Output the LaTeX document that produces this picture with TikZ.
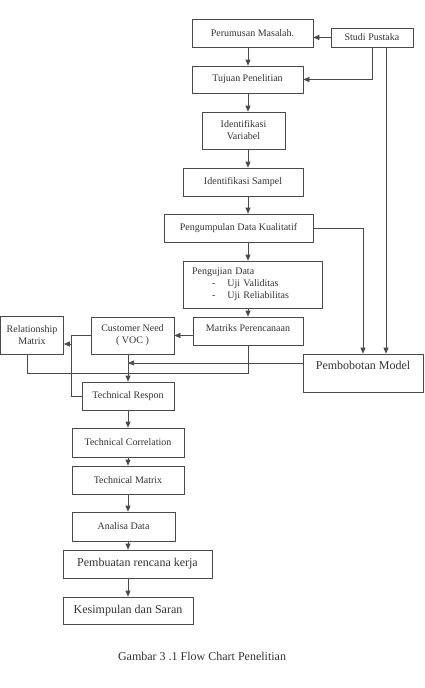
\documentclass[tikz,border=0pt]{standalone}
\usepackage{fontspec}
\setmainfont{Liberation Serif}
\usetikzlibrary{arrows.meta,positioning}
\definecolor{lineGray}{HTML}{4A4A4A}
\definecolor{textMain}{HTML}{333333}

\begin{document}
\begin{tikzpicture}[
    x=1pt, y=-1pt,
    font=\fontsize{10}{12}\selectfont,
    boxNode/.style={
        rectangle, draw=lineGray, line width=0.7pt,
        text=textMain, inner sep=2pt, align=center
    },
    bigNode/.style={boxNode, font=\fontsize{12}{14}\selectfont},
    flow/.style={-{Triangle[length=6pt,width=5pt]}, draw=lineGray, line width=0.7pt},
    link/.style={draw=lineGray, line width=0.7pt}
]
\useasboundingbox (0,0) rectangle (424,688);

% Main column, top part
\node[boxNode, minimum width=121, minimum height=28] (Perumusan) at (252.5,33) {Perumusan Masalah.};
\node[boxNode, minimum width=82, minimum height=19] (Studi) at (372,37.5) {Studi Pustaka};
\node[boxNode, minimum width=111, minimum height=27] (Tujuan) at (247.5,79.5) {Tujuan Penelitian};
\node[boxNode, minimum width=83, minimum height=37] (Variabel) at (243.5,130.5) {Identifikasi\\Variabel};
\node[boxNode, minimum width=120, minimum height=28] (Sampel) at (243,182) {Identifikasi Sampel};
\node[boxNode, minimum width=149, minimum height=28] (Kualitatif) at (238.5,228) {Pengumpulan Data Kualitatif};
\node[boxNode, text width=121pt, inner xsep=9pt, minimum height=47, align=left] (Pengujian) at (252.5,284.5)
  {Pengujian Data\\\hspace*{20pt}-\hspace{12pt}Uji Validitas\\\hspace*{20pt}-\hspace{12pt}Uji Reliabilitas};
\node[boxNode, minimum width=110, inner ysep=0pt, text height=14.5pt, text depth=13.5pt] (Matriks) at (248,331) {Matriks Perencanaan};

% QFD part
\node[boxNode, minimum width=83, minimum height=37] (Customer) at (132.5,335.5) {Customer Need\\( VOC )};
\node[boxNode, minimum width=63, minimum height=38] (Relationship) at (32,335) {Relationship\\Matrix};
\node[bigNode, minimum width=120, inner ysep=0pt, text height=15pt, text depth=23pt] (Pembobotan) at (363,373) {Pembobotan Model};
\node[boxNode, minimum width=92, minimum height=28] (Respon) at (128,396) {Technical Respon};
\node[boxNode, minimum width=112, minimum height=29] (Correlation) at (128,442.5) {Technical Correlation};
\node[boxNode, minimum width=112, minimum height=28] (TechMatrix) at (128,480) {Technical Matrix};
\node[boxNode, minimum width=103, minimum height=29] (Analisa) at (123.5,526.5) {Analisa Data};
\node[bigNode, minimum width=149, minimum height=28] (Rencana) at (137.5,564) {Pembuatan rencana kerja};
\node[bigNode, minimum width=130, minimum height=27] (Kesimpulan) at (128,610.5) {Kesimpulan dan Saran};

\node[font=\fontsize{12}{14}\selectfont, text=textMain] (Caption) at (202,656) {Gambar 3 .1 Flow Chart Penelitian};

% Connectors
\coordinate (Axis) at (248,0);
\draw[flow] (Perumusan.south -| Axis) -- (Tujuan.north -| Axis);
\draw[flow] (Tujuan.south -| Axis) -- (Variabel.north -| Axis);
\draw[flow] (Variabel.south -| Axis) -- (Sampel.north -| Axis);
\draw[flow] (Sampel.south -| Axis) -- (Kualitatif.north -| Axis);
\draw[flow] (Kualitatif.south -| Axis) -- (Pengujian.north -| Axis);
\draw[flow] (Pengujian.south -| Axis) -- (Matriks.north -| Axis);

\draw[flow] (Studi.west) -- (Studi.west -| Perumusan.east);
\draw[flow] (Studi.south) |- (Tujuan.east);
\draw[flow] ([xshift=14pt]Studi.south) -- ([xshift=14pt]Studi.south |- Pembobotan.north);
\draw[flow] (Kualitatif.east) -| (Pembobotan.north);

\draw[flow] (Matriks.west |- Customer.east) -- (Customer.east);
\draw[link] (Matriks.south -| Axis) -- ++(0,28) -| ([xshift=-4.5pt]Relationship.south);
\coordinate (Join) at ([yshift=10pt]Pembobotan.west -| Respon.north);
\draw[flow] ([yshift=10pt]Pembobotan.west) -- (Join);
\draw[flow] (Customer.south -| Respon.north) -- (Respon.north);
\draw[link] (Customer.west) -- ++(-19,0) coordinate (Bend) |- (Respon.west);
\coordinate (RelIn) at ([yshift=-9pt]Relationship.east);
\draw[flow] (Bend |- RelIn) -- (RelIn);

\draw[flow] (Respon.south) -- (Correlation.north);
\draw[flow] (Correlation.south) -- (TechMatrix.north);
\draw[flow] (TechMatrix.south) -- (TechMatrix.south |- Analisa.north);
\draw[flow] (TechMatrix.south |- Analisa.south) -- (TechMatrix.south |- Rencana.north);
\draw[flow] (TechMatrix.south |- Rencana.south) -- (TechMatrix.south |- Kesimpulan.north);

\end{tikzpicture}
\end{document}
